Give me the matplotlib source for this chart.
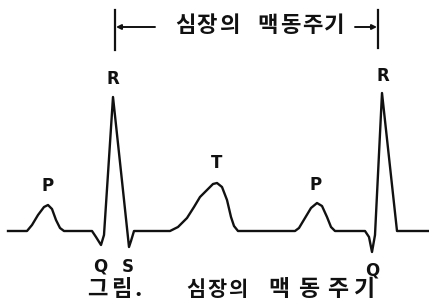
import numpy as np
import matplotlib
matplotlib.use("Agg")
import matplotlib.pyplot as plt

# ECG trace: time (px along the strip) and amplitude above the baseline
t = [8, 27, 32, 38, 44, 48, 52, 56, 60, 64,
     92, 96, 101, 104, 113, 122, 129, 131, 134,
     170, 178, 187, 194, 200, 208, 213, 217, 222, 227, 231, 234, 238,
     295, 299, 305, 311, 317, 322, 327, 331, 335,
     365, 369, 372, 375, 382, 397, 429]
amp = [0, 0, 6, 16, 24, 26, 22, 11, 3, 0,
       0, -6, -14, -4, 134, 50, -16, -10, 0,
       0, 4, 13, 24, 34, 42, 47, 48, 44, 31, 14, 5, 0,
       0, 3, 13, 23, 28, 25, 14, 4, 0,
       0, -6, -21, -4, 138, 0, 0]

# wave labels: name, time, amplitude
wave_names = ["P", "R", "Q", "S", "T", "P", "R", "Q"]
wave_t = [48, 113, 100, 128, 217, 316, 383, 372]
wave_amp = [45, 152, -36, -36, 68, 46, 155, -39]

period_start = 115
period_end = 378
# spaced-out lettering: characters and their centres
period_chars = ["심", "장", "의", "맥", "동", "주", "기"]
period_pos = [185, 207, 230, 268, 290, 312, 334]
caption_chars = ["그", "림", ".", "심", "장", "의", "맥", "동", "주", "기"]
caption_pos = [97, 121, 138, 196, 217, 238, 279, 309, 338, 364]
caption_size = [16, 16, 16, 15, 15, 15, 16.5, 16.5, 16.5, 16.5]

kfont = ["Noto Sans CJK KR", "DejaVu Sans"]
ink = "#111111"

fig = plt.figure(figsize=(4.29, 3.01), dpi=100)
ax = fig.add_axes([0, 0, 1, 1])
ax.set_xlim(0, 429)
ax.set_ylim(-70, 231)
ax.axis("off")

ax.plot(t, amp, color=ink, lw=1.7, solid_joinstyle="round")

for name, x, y in zip(wave_names, wave_t, wave_amp):
    ax.text(x, y, name, ha="center", va="center", fontsize=12,
            fontweight="bold", color=ink, family=["Liberation Sans Narrow", "DejaVu Sans"])

# period bracket on top
top = 231 - 27
ax.plot([period_start, period_start], [231 - 10, 231 - 50], color=ink, lw=1.6)
ax.plot([period_end, period_end], [231 - 10, 231 - 48], color=ink, lw=1.6)
ax.annotate("", xy=(period_start + 1, top), xytext=(155, top),
            arrowprops=dict(arrowstyle="-|>", color=ink, lw=1.4,
                            mutation_scale=7, shrinkA=0, shrinkB=0))
ax.annotate("", xy=(period_end - 1, top), xytext=(355, top),
            arrowprops=dict(arrowstyle="-|>", color=ink, lw=1.4,
                            mutation_scale=7, shrinkA=0, shrinkB=0))
for ch, x in zip(period_chars, period_pos):
    ax.text(x, 231 - 25, ch, ha="center", va="center", fontsize=16,
            fontweight="bold", color=ink, family=kfont)

# caption
for ch, x, fs in zip(caption_chars, caption_pos, caption_size):
    ax.text(x, 231 - 289, ch, ha="center", va="center", fontsize=fs,
            fontweight="bold", color=ink, family=kfont)

fig.savefig("out.png", dpi=100)
